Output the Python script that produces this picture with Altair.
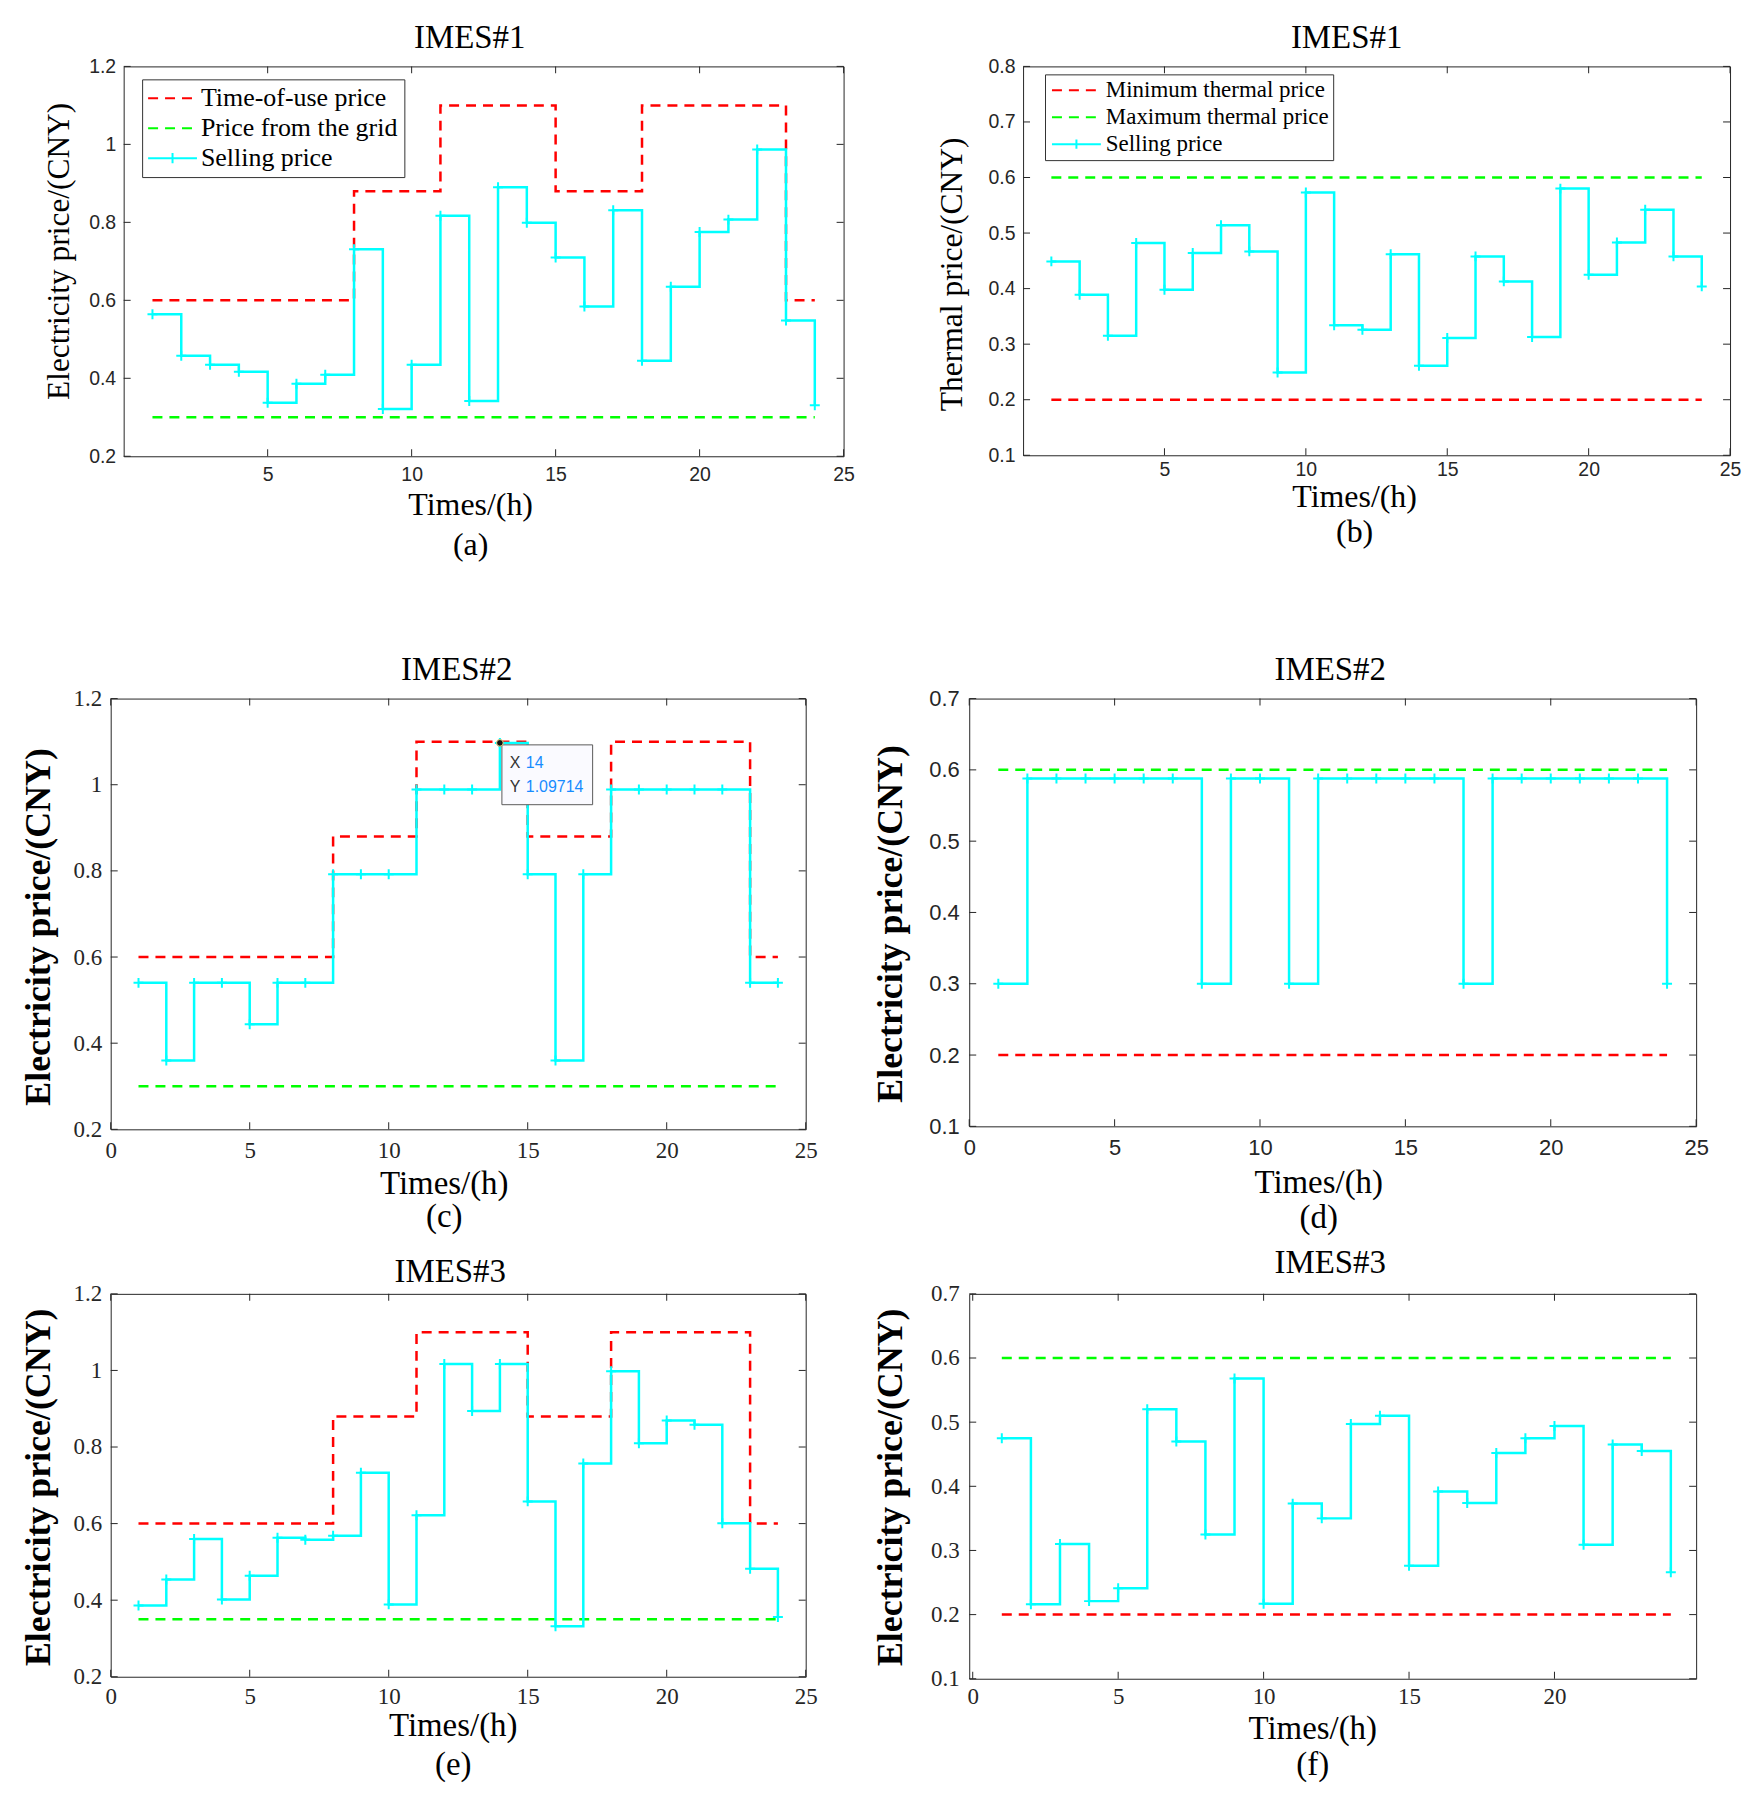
import altair as alt
import pandas as pd

# ---------------- data ----------------
hours = [1, 2, 3, 4, 5, 6, 7, 8, 9, 10, 11, 12, 13, 14, 15, 16, 17, 18, 19, 20, 21, 22, 23, 24]

tou_price = [0.6, 0.6, 0.6, 0.6, 0.6, 0.6, 0.6, 0.88, 0.88, 0.88, 1.1, 1.1,
             1.1, 1.1, 0.88, 0.88, 0.88, 1.1, 1.1, 1.1, 1.1, 1.1, 0.6, 0.6]
grid_price_12 = [0.3, 0.3, 0.3, 0.3, 0.3, 0.3, 0.3, 0.3, 0.3, 0.3, 0.3, 0.3,
                 0.3, 0.3, 0.3, 0.3, 0.3, 0.3, 0.3, 0.3, 0.3, 0.3, 0.3, 0.3]
grid_price_3 = [0.35, 0.35, 0.35, 0.35, 0.35, 0.35, 0.35, 0.35, 0.35, 0.35, 0.35, 0.35,
                0.35, 0.35, 0.35, 0.35, 0.35, 0.35, 0.35, 0.35, 0.35, 0.35, 0.35, 0.35]
thermal_min = [0.2, 0.2, 0.2, 0.2, 0.2, 0.2, 0.2, 0.2, 0.2, 0.2, 0.2, 0.2,
               0.2, 0.2, 0.2, 0.2, 0.2, 0.2, 0.2, 0.2, 0.2, 0.2, 0.2, 0.2]
thermal_max = [0.6, 0.6, 0.6, 0.6, 0.6, 0.6, 0.6, 0.6, 0.6, 0.6, 0.6, 0.6,
               0.6, 0.6, 0.6, 0.6, 0.6, 0.6, 0.6, 0.6, 0.6, 0.6, 0.6, 0.6]

sell_a = [0.564, 0.458, 0.435, 0.417, 0.337, 0.386, 0.409, 0.731, 0.321, 0.435, 0.817, 0.342,
          0.890, 0.799, 0.710, 0.584, 0.831, 0.445, 0.635, 0.775, 0.807, 0.987, 0.548, 0.331]
sell_b = [0.449, 0.389, 0.315, 0.482, 0.398, 0.464, 0.514, 0.467, 0.249, 0.573, 0.334, 0.326,
          0.462, 0.261, 0.311, 0.458, 0.413, 0.313, 0.580, 0.425, 0.483, 0.542, 0.458, 0.404]
sell_c = [0.54, 0.36, 0.54, 0.54, 0.444, 0.54, 0.54, 0.792, 0.792, 0.792, 0.989, 0.989,
          0.989, 1.097, 0.792, 0.36, 0.792, 0.989, 0.989, 0.989, 0.989, 0.989, 0.54, 0.54]
sell_d = [0.3, 0.588, 0.588, 0.588, 0.588, 0.588, 0.588, 0.3, 0.588, 0.588, 0.3, 0.588,
          0.588, 0.588, 0.588, 0.588, 0.3, 0.588, 0.588, 0.588, 0.588, 0.588, 0.588, 0.3]
sell_e = [0.386, 0.454, 0.560, 0.402, 0.464, 0.563, 0.558, 0.568, 0.733, 0.389, 0.622, 1.017,
          0.894, 1.017, 0.658, 0.332, 0.757, 0.998, 0.810, 0.869, 0.858, 0.601, 0.482, 0.356]
sell_f = [0.475, 0.216, 0.310, 0.221, 0.241, 0.520, 0.470, 0.325, 0.568, 0.217, 0.373, 0.350,
          0.497, 0.510, 0.276, 0.392, 0.374, 0.452, 0.475, 0.494, 0.309, 0.465, 0.455, 0.266]

tip_hour = [14]
tip_value = [1.09714]

hour_ticks_top = [5, 10, 15, 20, 25]
hour_ticks_all = [0, 5, 10, 15, 20, 25]
hour_ticks_f = [0, 5, 10, 15, 20]
elec_ticks = [0.2, 0.4, 0.6, 0.8, 1.0, 1.2]
thermal_ticks_b = [0.1, 0.2, 0.3, 0.4, 0.5, 0.6, 0.7, 0.8]
thermal_ticks_df = [0.1, 0.2, 0.3, 0.4, 0.5, 0.6, 0.7]

elec_names = ["Time-of-use price", "Price from the grid", "Selling price"]
heat_names = ["Minimum thermal price", "Maximum thermal price", "Selling price"]

# ---------------- style ----------------
SERIF = "Liberation Serif"
SANS = "Liberation Sans"
RED = "#FF0000"
GREEN = "#00FF00"
CYAN = "#00FFFF"
AXIS = "#262626"
DASH = [10, 7]
PLUS = "M-1,0L1,0M0,-1L0,1"


def spacer(w, h):
    return alt.Chart(pd.DataFrame({"v": [0]})).mark_point(opacity=0).encode(
        x=alt.value(0), y=alt.value(0)
    ).properties(width=w, height=h, view=alt.ViewBackground(stroke="transparent"))


def build_panel(p):
    xs = alt.Scale(domain=p["xdom"], nice=False, zero=False)
    ys = alt.Scale(domain=p["ydom"], nice=False, zero=False)
    rows = []
    for name, vals, _c, _d in p["series"]:
        for h, v in zip(hours, vals):
            rows.append({"hour": h, "price": v, "series": name})
    df = pd.DataFrame(rows)
    base = alt.Chart(df)

    xaxis = alt.Axis(
        values=p["xticks"], format="d", labelFont=p["tfont"], labelFontSize=p["tfs"],
        labelColor=AXIS, labelPadding=p["xlp"], labelFlush=False, ticks=False, tickSize=0,
        domain=False, grid=False, title=["Times/(h)", p["tag"]], titleFont=SERIF,
        titleFontSize=p["xtfs"], titleFontWeight="normal", titleColor="black",
        titleLineHeight=p["xlh"], titleBaseline="top", titleX=p["xtx"], titleY=p["xty"],
    )
    yaxis = alt.Axis(
        values=p["yticks"], format=".1~f", labelFont=p["tfont"], labelFontSize=p["tfs"],
        labelColor=AXIS, labelPadding=p["ylp"], labelFlush=False, ticks=False, tickSize=0,
        domain=False, grid=False, title=p["ytitle"], titleFont=SERIF,
        titleFontSize=p["ytfs"], titleFontWeight=p["ytw"], titleColor="black",
        titleBaseline="middle", titleX=p["ytx"], titleY=p["yty"],
    )

    def X(field):
        return alt.X(field, scale=xs, axis=xaxis)

    def Y(field):
        return alt.Y(field, scale=ys, axis=yaxis)

    layers = []
    for name, vals, color, dash in p["series"]:
        kw = {"strokeDash": dash} if dash else {}
        layers.append(
            base.transform_filter(alt.datum.series == name)
            .mark_line(interpolate="step-after", color=color, strokeWidth=2.5, **kw)
            .encode(x=X("hour:Q"), y=Y("price:Q"))
        )

    # '+' markers on the selling price
    layers.append(
        base.transform_filter(alt.datum.series == "Selling price")
        .mark_point(shape=PLUS, size=100, filled=False, color=CYAN, strokeWidth=2, opacity=1)
        .encode(x=X("hour:Q"), y=Y("price:Q"))
    )

    # inward ticks on all four sides (MATLAB box style)
    xdf = pd.DataFrame({"t": p["xticks"]})
    ydf = pd.DataFrame({"t": p["yticks"]})
    tk = dict(color=AXIS, thickness=1, size=7, opacity=1)
    layers.append(alt.Chart(xdf).mark_tick(orient="vertical", yOffset=-3.5, **tk).encode(
        x=X("t:Q"), y=alt.YDatum(p["ydom"][0], scale=ys, axis=yaxis)))
    layers.append(alt.Chart(xdf).mark_tick(orient="vertical", yOffset=3.5, **tk).encode(
        x=X("t:Q"), y=alt.YDatum(p["ydom"][1], scale=ys, axis=yaxis)))
    layers.append(alt.Chart(ydf).mark_tick(orient="horizontal", xOffset=3.5, **tk).encode(
        y=Y("t:Q"), x=alt.XDatum(p["xdom"][0], scale=xs, axis=xaxis)))
    layers.append(alt.Chart(ydf).mark_tick(orient="horizontal", xOffset=-3.5, **tk).encode(
        y=Y("t:Q"), x=alt.XDatum(p["xdom"][1], scale=xs, axis=xaxis)))

    # legend (built from an empty helper layer so that every entry gets its own symbol)
    if "legend" in p:
        L = p["legend"]
        names = [s[0] for s in p["series"]]
        colors = [s[2] for s in p["series"]]
        dashes = [s[3] if s[3] else [1, 0] for s in p["series"]]
        k1, k2 = L["k1"], L["k2"]
        m = (k2 - k1) / 2
        line_path = f"M{-k1},0L{k2},0"
        plus_path = f"M{-k1},0L{k2},0M{m:.3f},-0.42L{m:.3f},0.42"
        paths = [line_path, line_path, plus_path]
        leg = alt.Legend(
            orient="none", legendX=L["x"], legendY=L["y"], title=None, direction="vertical",
            labelFont=SERIF, labelFontSize=L["fs"], labelColor="black", labelLimit=600,
            labelOffset=L["off"], symbolSize=L["size"], symbolStrokeWidth=2,
            strokeColor="#333333", fillColor="white", padding=L["pad"], rowPadding=L["rp"],
            symbolOpacity=1,
        )
        layers.append(
            base.transform_filter("false")
            .mark_point(filled=False, opacity=1)
            .encode(
                x=X("hour:Q"),
                y=Y("price:Q"),
                color=alt.Color("series:N", scale=alt.Scale(domain=names, range=colors), legend=leg),
                strokeDash=alt.StrokeDash("series:N", scale=alt.Scale(domain=names, range=dashes), legend=leg),
                shape=alt.Shape("series:N", scale=alt.Scale(domain=names, range=paths), legend=leg),
            )
        )

    # data tip (panel c)
    if p.get("tip"):
        tdf = pd.DataFrame({"hour": tip_hour, "price": tip_value})
        tb = alt.Chart(tdf)
        enc = dict(x=X("hour:Q"), y=Y("price:Q"))
        layers.append(tb.mark_point(shape="M0.2,0.2L9.3,0.2L9.3,6.2L0.2,6.2Z", size=400, filled=True,
                                    fill="#FAFAFF", stroke="#5A5A5A", strokeWidth=1, opacity=1).encode(**enc))
        layers.append(tb.mark_point(shape="circle", size=45, filled=True, fill="#111111",
                                    stroke="#E6D98A", strokeWidth=1, opacity=1).encode(**enc))
        layers.append(tb.mark_text(text="X\nY", lineBreak="\n", lineHeight=24, align="left",
                                   baseline="top", dx=10, dy=12, font=SANS, fontSize=16,
                                   color="#333333").encode(**enc))
        layers.append(tb.mark_text(text=f"{tip_hour[0]}\n{tip_value[0]}", lineBreak="\n",
                                   lineHeight=24, align="left", baseline="top", dx=26, dy=12,
                                   font=SANS, fontSize=16, color="#178CFF").encode(**enc))

    return alt.layer(*layers).properties(
        width=p["w"], height=p["h"],
        title=alt.TitleParams(text=p["title"], font=SERIF, fontSize=33, fontWeight="normal",
                              color="black", offset=p["toff"], baseline="alphabetic",
                              frame="group", anchor="middle", dx=p["tdx"]),
    )


elec_a = [(elec_names[0], tou_price, RED, DASH), (elec_names[1], grid_price_12, GREEN, DASH),
          (elec_names[2], sell_a, CYAN, None)]
heat_b = [(heat_names[0], thermal_min, RED, DASH), (heat_names[1], thermal_max, GREEN, DASH),
          (heat_names[2], sell_b, CYAN, None)]
elec_c = [(elec_names[0], tou_price, RED, DASH), (elec_names[1], grid_price_12, GREEN, DASH),
          (elec_names[2], sell_c, CYAN, None)]
heat_d = [(heat_names[0], thermal_min, RED, DASH), (heat_names[1], thermal_max, GREEN, DASH),
          (heat_names[2], sell_d, CYAN, None)]
elec_e = [(elec_names[0], tou_price, RED, DASH), (elec_names[1], grid_price_3, GREEN, DASH),
          (elec_names[2], sell_e, CYAN, None)]
heat_f = [(heat_names[0], thermal_min, RED, DASH), (heat_names[1], thermal_max, GREEN, DASH),
          (heat_names[2], sell_f, CYAN, None)]

PA = dict(series=elec_a, w=722, h=391, xdom=[0, 25], xticks=hour_ticks_top, ydom=[0.2, 1.2],
          yticks=elec_ticks, tfont=SANS, tfs=19.5, xlp=9.6, ylp=8,
          ytitle="Electricity price/(CNY)", ytfs=31.5, ytw="normal", ytx=-64, yty=185,
          xtfs=32, xtx=347.5, xty=33.6, xlh=39.6, tag="(a)", title="IMES#1", toff=-24.6, tdx=-14,
          legend=dict(x=18.5, y=13, pad=6, size=576, off=27, k1=1.083, k2=3.0, fs=26, rp=4))
PB = dict(series=heat_b, w=709, h=390, xdom=[0, 25], xticks=hour_ticks_top, ydom=[0.1, 0.8],
          yticks=thermal_ticks_b, tfont=SANS, tfs=19.5, xlp=5.7, ylp=8,
          ytitle="Thermal price/(CNY)", ytfs=31.6, ytw="normal", ytx=-71, yty=208,
          xtfs=32, xtx=332, xty=26.5, xlh=35, tag="(b)", title="IMES#1", toff=-24.6, tdx=-30,
          legend=dict(x=22, y=8, pad=4, size=484, off=33, k1=0.82, k2=3.64, fs=23, rp=3))
PC = dict(series=elec_c, w=697, h=432, xdom=[0, 25], xticks=hour_ticks_all, ydom=[0.2, 1.2],
          yticks=elec_ticks, tfont=SERIF, tfs=23, xlp=10, ylp=9,
          ytitle="Electricity price/(CNY)", ytfs=36, ytw="bold", ytx=-72, yty=228.5,
          xtfs=33, xtx=334, xty=37.9, xlh=33.8, tag="(c)", title="IMES#2", toff=-25.5, tdx=-1.5,
          tip=True)
PD = dict(series=heat_d, w=729, h=429, xdom=[0, 25], xticks=hour_ticks_all, ydom=[0.1, 0.7],
          yticks=thermal_ticks_df, tfont=SANS, tfs=22, xlp=11.5, ylp=10,
          ytitle="Electricity price/(CNY)", ytfs=36, ytw="bold", ytx=-79, yty=225.5,
          xtfs=33, xtx=350, xty=40.6, xlh=35.1, tag="(d)", title="IMES#2", toff=-25.6, tdx=-2.5)
PE = dict(series=elec_e, w=697, h=384, xdom=[0, 25], xticks=hour_ticks_all, ydom=[0.2, 1.2],
          yticks=elec_ticks, tfont=SERIF, tfs=23, xlp=9.2, ylp=9,
          ytitle="Electricity price/(CNY)", ytfs=36, ytw="bold", ytx=-72, yty=193.5,
          xtfs=33, xtx=343, xty=33.1, xlh=39.4, tag="(e)", title="IMES#3", toff=-32.5, tdx=-8)
PF = dict(series=heat_f, w=729, h=386, xdom=[-0.12, 24.87], xticks=hour_ticks_f, ydom=[0.1, 0.7],
          yticks=thermal_ticks_df, tfont=SERIF, tfs=23, xlp=7, ylp=10,
          ytitle="Electricity price/(CNY)", ytfs=36, ytw="bold", ytx=-79, yty=193.5,
          xtfs=33, xtx=344, xty=34.4, xlh=36.1, tag="(f)", title="IMES#3", toff=-22.9, tdx=-2.5)

IND = dict(color="independent", shape="independent", strokeDash="independent")


def row(w1, left, w2, right):
    return alt.hconcat(spacer(w1, 1), left, spacer(w2, 1), right, spacing=0,
                       bounds="flush").resolve_scale(**IND).resolve_legend(**IND)


row1 = row(112, build_panel(PA), 180, build_panel(PB))
row2 = row(99, build_panel(PC), 164, build_panel(PD))
row3 = row(99, build_panel(PE), 164, build_panel(PF))

chart = alt.vconcat(
    spacer(1, 52), row1, spacer(1, 634), row2, spacer(1, 597), row3,
    spacing=0, bounds="flush",
).resolve_scale(**IND).resolve_legend(**IND).properties(padding=0).configure_view(
    stroke=AXIS, strokeWidth=1
)

chart.save("out.html", embed_options={"renderer": "svg", "actions": False})
